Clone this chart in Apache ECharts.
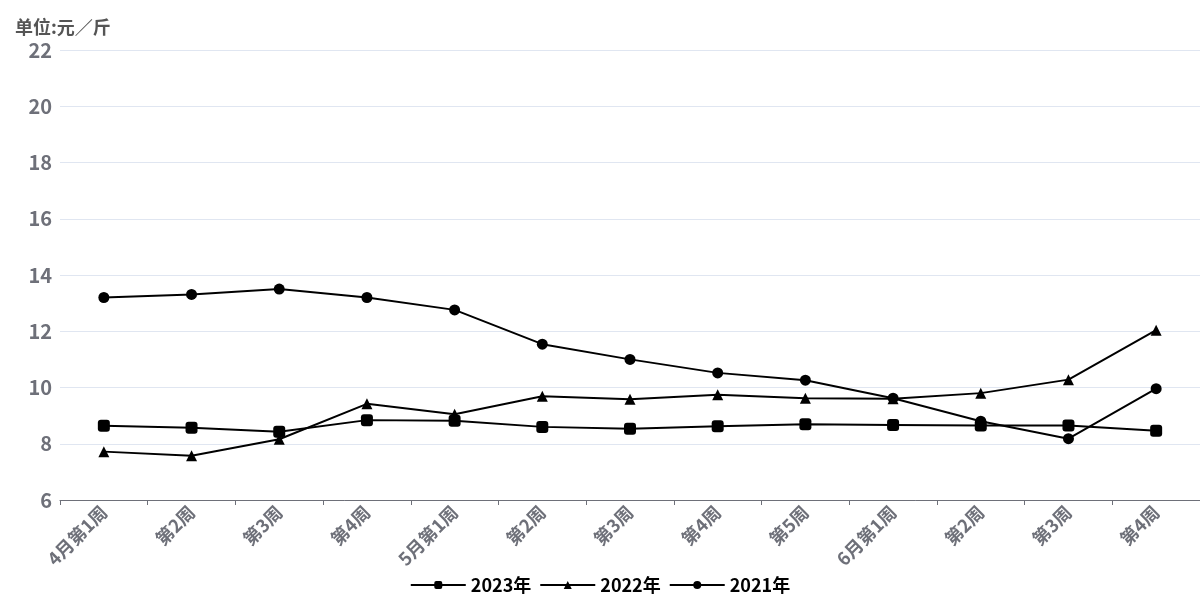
<!DOCTYPE html>
<html><head><meta charset="utf-8">
<script src="https://cdn.jsdelivr.net/npm/echarts@6/dist/echarts.min.js"></script>
<style>html,body{margin:0;padding:0;background:#fff}#c{width:1200px;height:600px}</style>
</head><body><div id="c"></div>
<script>
const categories = ['4月第1周','第2周','第3周','第4周','5月第1周','第2周','第3周','第4周','第5周','6月第1周','第2周','第3周','第4周'];
const s2023 = [8.64, 8.57, 8.43, 8.84, 8.82, 8.60, 8.53, 8.62, 8.69, 8.67, 8.65, 8.65, 8.46];
const s2022 = [7.72, 7.57, 8.16, 9.42, 9.05, 9.69, 9.58, 9.74, 9.62, 9.60, 9.80, 10.28, 12.04];
const s2021 = [13.20, 13.31, 13.50, 13.20, 12.76, 11.54, 11.00, 10.52, 10.26, 9.62, 8.80, 8.18, 9.96];
const yTicks = {min: 6, max: 22, interval: 2};
const FONT = '"Noto Sans CJK SC", "Noto Sans", sans-serif';
const chart = echarts.init(document.getElementById('c'));
function line(name, data, symbol, size) {
  return {name, type: 'line', data, symbol, symbolSize: size,
    lineStyle: {color: '#000', width: 2}, itemStyle: {color: '#000'}};
}
chart.setOption({
  animation: false,
  textStyle: {fontFamily: FONT},
  title: {text: '单位:元／斤', left: 10, top: 13,
    textStyle: {fontFamily: FONT, fontSize: 18, fontWeight: 'bold', color: '#555'}},
  grid: {left: 60, right: 0, top: 50, bottom: 100, containLabel: false},
  legend: {bottom: 1, left: 'center', itemWidth: 55, itemHeight: 10, itemGap: 8,
    textStyle: {fontFamily: FONT, fontSize: 18, fontWeight: 'bold', color: '#000'}},
  xAxis: {type: 'category', data: categories, boundaryGap: true,
    axisLine: {lineStyle: {color: '#6e7079'}},
    axisTick: {show: true, lineStyle: {color: '#6e7079'}},
    axisLabel: {rotate: 45, interval: 0, fontSize: 18, fontWeight: 'bold', color: '#6e7079', fontFamily: FONT, margin: 9}},
  yAxis: {type: 'value', min: yTicks.min, max: yTicks.max, interval: yTicks.interval,
    axisLine: {show: false}, axisTick: {show: false},
    splitLine: {lineStyle: {color: '#E0E6F1'}},
    axisLabel: {fontSize: 20, fontWeight: 'bold', color: '#6e7079', fontFamily: FONT, margin: 8}},
  series: [
    line('2023年', s2023, 'roundRect', 12),
    line('2022年', s2022, 'triangle', 11),
    line('2021年', s2021, 'circle', 11)
  ]
});
</script></body></html>
